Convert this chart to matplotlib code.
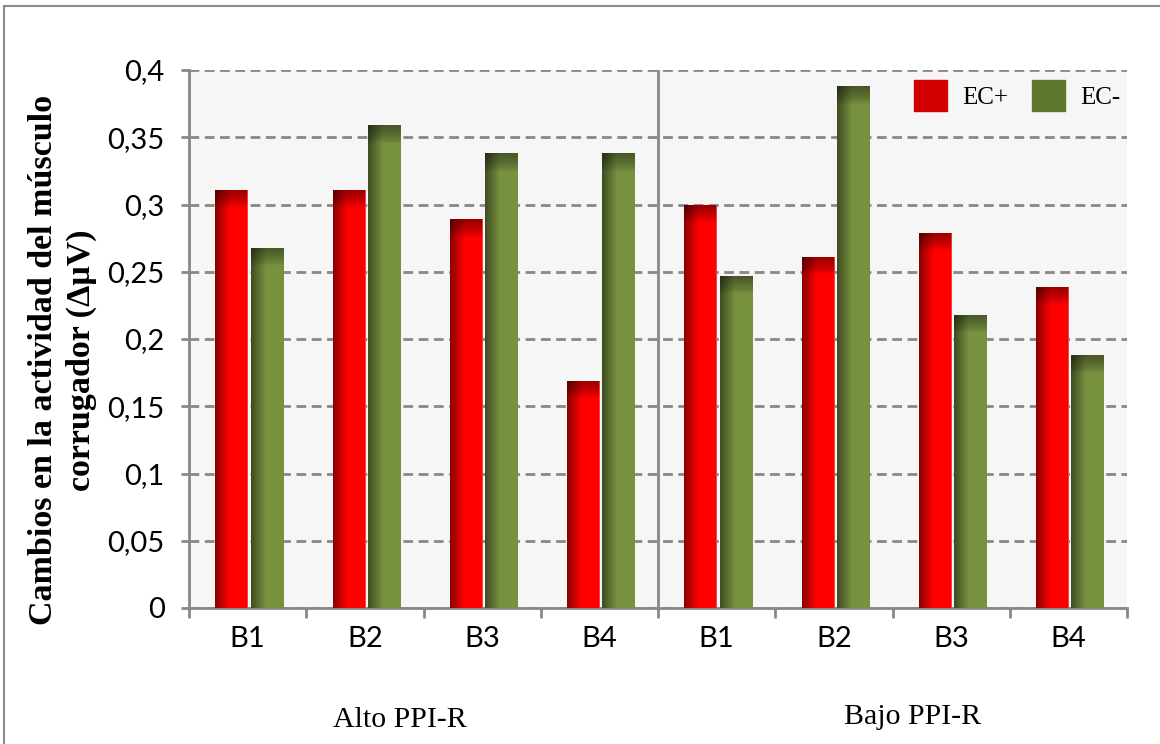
import matplotlib
matplotlib.use('Agg')
import matplotlib.pyplot as plt
import matplotlib.patches as mpatches
import matplotlib.transforms as mtransforms
import numpy as np

# cambios en el corrugador por bloque
bloques = ['B1', 'B2', 'B3', 'B4', 'B1', 'B2', 'B3', 'B4']
grupos = ['Alto PPI-R', 'Bajo PPI-R']
ec_pos = [0.311, 0.311, 0.289, 0.169, 0.300, 0.261, 0.279, 0.239]
ec_neg = [0.268, 0.359, 0.338, 0.338, 0.247, 0.388, 0.218, 0.188]
yticks = [0, 0.05, 0.1, 0.15, 0.2, 0.25, 0.3, 0.35, 0.4]
ytick_labels = ['0', '0,05', '0,1', '0,15', '0,2', '0,25', '0,3', '0,35', '0,4']

serif = ['Liberation Serif', 'DejaVu Serif']
sans = ['Lato', 'DejaVu Sans']


def shade(ax, patch, dark, bright, rim):
    # left-to-right ramp plus a darker band along the top
    x0, y0 = patch.get_x(), patch.get_y()
    w, h = patch.get_width(), patch.get_height()
    nx, ny = 60, 300
    u = np.linspace(0, 1, nx)
    t = np.clip(u / 0.45, 0, 1)
    row = np.array(dark) + (np.array(bright) - np.array(dark)) * t[:, None]
    img = np.tile(row, (ny, 1, 1))
    d = np.linspace(0, 1, ny) * h
    s = np.clip(1 - d / 0.013, 0, 1) ** 0.7
    img = img * (1 - 0.4 * s[:, None, None])
    if rim:
        img[:, -1, :] = [1.0, 0.45, 0.45]
    im = ax.imshow(img, extent=(x0, x0 + w, y0, y0 + h), aspect='auto',
                   origin='upper', interpolation='bilinear', zorder=3)
    im.set_clip_path(patch)


fig = plt.figure(figsize=(11.6, 7.44), dpi=100)
ax = fig.add_axes([0.163, 0.1828, 0.8086, 0.7231])
ax.set_facecolor('#f6f6f6')

x = np.arange(len(bloques))
w = 0.28
red_bars = ax.bar(x - 0.135, ec_pos, w, color='#e00000', zorder=2, label='EC+')
green_bars = ax.bar(x + 0.165, ec_neg, w, color='#6b8538', zorder=2, label='EC-')
for p in red_bars:
    shade(ax, p, (0.55, 0.0, 0.0), (1.0, 0.0, 0.0), True)
for p in green_bars:
    shade(ax, p, (0.24, 0.30, 0.13), (0.47, 0.57, 0.25), False)

ax.set_xlim(-0.5, 7.5)
ax.set_ylim(0, 0.4)

ax.set_yticks(yticks)
ax.set_yticklabels(ytick_labels, family=sans, fontsize=21)
ax.yaxis.grid(True, linestyle=(0, (3.5, 2)), color='#888888', linewidth=2)
ax.set_axisbelow(True)

ax.set_xticks(np.arange(-0.5, 8, 1))
ax.set_xticklabels([])
ax.set_xticks(x, minor=True)
ax.set_xticklabels(bloques, minor=True, family=sans, fontsize=21)
ax.tick_params(axis='x', which='minor', length=0, pad=13)
ax.tick_params(axis='x', which='major', length=7, width=2, color='#888888')
ax.tick_params(axis='y', which='major', length=6, width=2, color='#888888', pad=11.5)

for side in ['top', 'right']:
    ax.spines[side].set_visible(False)
for side in ['left', 'bottom']:
    ax.spines[side].set_color('#888888')
    ax.spines[side].set_linewidth(2)

ax.axvline(3.5, color='#888888', linewidth=2, zorder=4)

trans = mtransforms.blended_transform_factory(ax.transData, ax.transAxes)
ax.text(1.3, -0.208, grupos[0], transform=trans, ha='center', va='center',
        family=serif, fontsize=21.5)
ax.text(5.67, -0.202, grupos[1], transform=trans, ha='center', va='center',
        family=serif, fontsize=21.5)

ax.set_ylabel('Cambios en la actividad del músculo\ncorrugador (ΔμV)',
              family=serif, fontsize=24.5, fontweight='bold', linespacing=1.3)
ax.yaxis.set_label_coords(-0.098, 0.461)

handles = [mpatches.Rectangle((0, 0), 1, 1, color='#d00000'),
           mpatches.Rectangle((0, 0), 1, 1, color='#5f7830')]
ax.legend(handles, ['EC+', 'EC-'], loc='upper left', ncol=2, frameon=False,
          prop={'family': serif, 'size': 18}, handlelength=1.32,
          handleheight=1.5, handletextpad=0.6, columnspacing=0.96,
          bbox_to_anchor=(0.773, 0.981), borderaxespad=0, borderpad=0)

# outer frame
fig.patches.append(mpatches.Rectangle((4 / 1160, -0.1), 2, 1.1 - 6 / 744,
                                      transform=fig.transFigure, fill=False,
                                      edgecolor='#8a8a8a', linewidth=1.5))

fig.savefig('out.png', dpi=100)
